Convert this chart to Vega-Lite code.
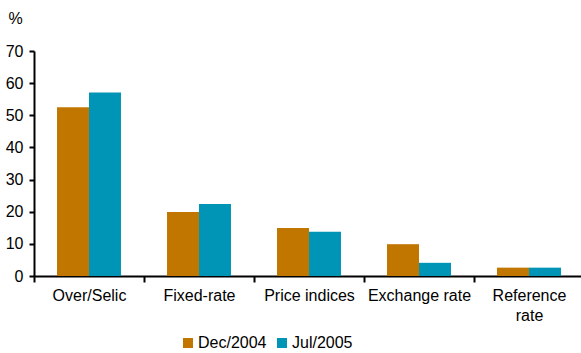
{
  "$schema": "https://vega.github.io/schema/vega-lite/v6.json",
  "autosize": "none",
  "width": 550,
  "height": 225,
  "padding": {"left": 34, "top": 51, "right": 0, "bottom": 77},
  "background": "white",
  "config": {
    "view": {"stroke": null},
    "font": "Liberation Sans",
    "axis": {"labelFont": "Liberation Sans", "labelFontSize": 16, "labelColor": "#000", "titleFont": "Liberation Sans", "domainColor": "#000", "tickColor": "#000", "grid": false}
  },
  "data": {
    "values": [
      {"category": "Over/Selic", "period": "Dec/2004", "value": 52.5},
      {"category": "Over/Selic", "period": "Jul/2005", "value": 57.1},
      {"category": "Fixed-rate", "period": "Dec/2004", "value": 19.9},
      {"category": "Fixed-rate", "period": "Jul/2005", "value": 22.4},
      {"category": "Price indices", "period": "Dec/2004", "value": 14.9},
      {"category": "Price indices", "period": "Jul/2005", "value": 13.8},
      {"category": "Exchange rate", "period": "Dec/2004", "value": 9.9},
      {"category": "Exchange rate", "period": "Jul/2005", "value": 4.1},
      {"category": "Reference rate", "period": "Dec/2004", "value": 2.6},
      {"category": "Reference rate", "period": "Jul/2005", "value": 2.6}
    ]
  },
  "mark": {"type": "bar"},
  "encoding": {
    "x": {
      "field": "category",
      "type": "nominal",
      "sort": ["Over/Selic", "Fixed-rate", "Price indices", "Exchange rate", "Reference rate"],
      "scale": {"paddingInner": 0, "paddingOuter": 0},
      "axis": {
        "title": null,
        "labelAngle": 0,
        "tickBand": "extent",
        "tickSize": 6,
        "tickWidth": 2,
        "domainWidth": 2,
        "labelPadding": 5,
        "labelLineHeight": 20,
        "labelExpr": "datum.label == 'Reference rate' ? ['Reference', 'rate'] : datum.label"
      }
    },
    "xOffset": {
      "field": "period",
      "type": "nominal",
      "scale": {"paddingInner": 0, "paddingOuter": 0.72}
    },
    "y": {
      "field": "value",
      "type": "quantitative",
      "scale": {"domain": [0, 70], "nice": false},
      "axis": {
        "values": [0, 10, 20, 30, 40, 50, 60, 70],
        "title": "%",
        "titleAngle": 0,
        "titleAlign": "left",
        "titleBaseline": "alphabetic",
        "titleX": -26,
        "titleY": -28,
        "titleFontSize": 16,
        "titleFontWeight": "normal",
        "titleColor": "#000",
        "tickSize": 5,
        "tickWidth": 2,
        "domainWidth": 2,
        "labelPadding": 6
      }
    },
    "color": {
      "field": "period",
      "type": "nominal",
      "scale": {"domain": ["Dec/2004", "Jul/2005"], "range": ["#C17600", "#0094B6"]},
      "legend": {
        "orient": "none",
        "direction": "horizontal",
        "legendX": 146,
        "legendY": 284,
        "title": null,
        "symbolType": "square",
        "symbolSize": 100,
        "symbolStrokeWidth": 0,
        "labelFontSize": 16,
        "labelFont": "Liberation Sans",
        "labelColor": "#000",
        "labelOffset": 2,
        "columnPadding": 7,
        "padding": 0
      }
    }
  }
}
